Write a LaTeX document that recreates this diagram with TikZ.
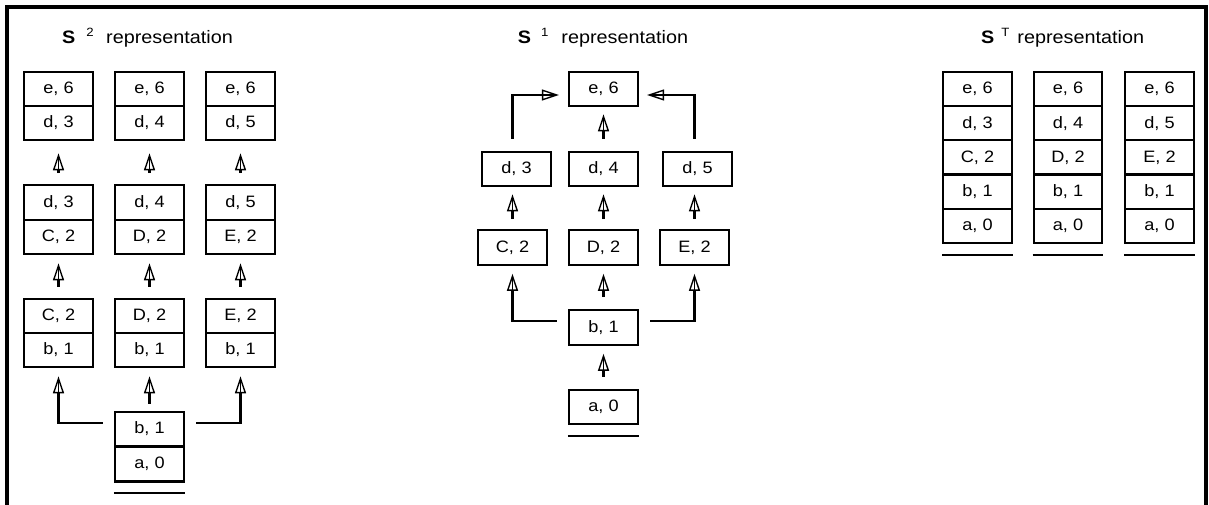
\documentclass[tikz,border=0pt]{standalone}
\usepackage{fontspec}
\setmainfont{Liberation Sans}[FakeStretch=1.1]
\usetikzlibrary{arrows.meta}
\begin{document}
\begin{tikzpicture}[x=1pt,y=-1pt,
  cell/.style={draw, line width=2.2pt, minimum width=69pt, minimum height=34.4pt, inner sep=0pt, font=\fontsize{16.5}{18}\selectfont},
  ttl/.style={anchor=base west, inner sep=0pt, font=\fontsize{18}{20}\selectfont},
  arr/.style={line width=2.2pt, -{Triangle[open,length=17pt,width=11pt,line width=1.4pt]}, shorten >=#1, postaction={draw,-,line width=1.6pt,shorten >=#1+4pt}},
  uline/.style={line width=2.2pt},
  frame/.style={line width=3.4pt}]
\useasboundingbox (0,0) rectangle (1209,505);
\draw[frame] (7,506) -- (7,7) -- (1206,7) -- (1206,506);

% ---------- S^2 ----------
\node[ttl] (T2) at (62,44) {\textbf{S}\hspace{11pt}\raisebox{7.5pt}{\fontsize{12}{12}\selectfont 2}\hspace{12.5pt}representation};
\foreach \c/\x/\u/\v in {1/58.5/3/C, 2/149.5/4/D, 3/240.5/5/E}{
  \node[cell] (L\c a) at (\x,89) {e, 6};
  \node[cell] (L\c b) at (\x,123) {d, \u};
  \node[cell] (L\c c) at (\x,202.5) {d, \u};
  \node[cell] (L\c d) at (\x,237) {\v, 2};
  \node[cell] (L\c e) at (\x,316) {\v, 2};
  \node[cell] (L\c f) at (\x,350) {b, 1};
  \draw[arr=12pt, shorten <=11pt] (L\c c.north) -- (L\c b.south);
  \draw[arr=8pt, shorten <=11pt] (L\c e.north) -- (L\c d.south);
}
\node[cell] (LBa) at (149.5,429) {b, 1};
\node[cell, minimum height=35pt] (LBb) at (149.5,464) {a, 0};
\draw[arr=8pt, shorten <=7pt] (LBa.north) -- (L2f.south);
\draw[arr=8pt] ([xshift=-11pt,yshift=-12pt]LBa.north west) -| (L1f.south);
\draw[arr=8pt] ([xshift=11pt,yshift=-12pt]LBa.north east) -| (L3f.south);
\draw[uline] ([yshift=-10pt]LBb.south west) -- ([yshift=-10pt]LBb.south east);

% ---------- S^1 ----------
\node[ttl] (T1) at (517.7,44) {\textbf{S}\hspace{10pt}\raisebox{7.5pt}{\fontsize{12}{12}\selectfont 1}\hspace{13pt}representation};
\node[cell] (Me) at (603.5,89) {e, 6};
\node[cell] (Md3) at (516.5,169) {d, 3};
\node[cell] (Md4) at (603.5,169) {d, 4};
\node[cell] (Md5) at (697.5,169) {d, 5};
\node[cell] (MC) at (512.5,247.5) {C, 2};
\node[cell] (MD) at (603.5,247.5) {D, 2};
\node[cell] (ME) at (694.5,247.5) {E, 2};
\node[cell] (Mb) at (603.5,327.5) {b, 1};
\node[cell] (Ma) at (603.5,407) {a, 0};
\coordinate (Mc3) at (MC.north |- Md3.north);
\coordinate (Mc5) at (ME.north |- Md5.north);
\draw[arr=9pt, shorten <=12pt] (Mc3) |- ([yshift=-6pt]Me.west);
\draw[arr=8pt, shorten <=12pt] (Mc5) |- ([yshift=-6pt]Me.east);
\draw[arr=7pt, shorten <=12pt] (Md4.north) -- (Me.south);
\draw[arr=7pt, shorten <=10pt] (MC.north) -- (MC.north |- Md3.south);
\draw[arr=7pt, shorten <=10pt] (MD.north) -- (Md4.south);
\draw[arr=7pt, shorten <=10pt] (ME.north) -- (ME.north |- Md5.south);
\draw[arr=8pt, shorten <=12pt] (Mb.north) -- (MD.south);
\draw[arr=8pt] ([xshift=-11pt,yshift=-12pt]Mb.north west) -| (MC.south);
\draw[arr=8pt] ([xshift=11pt,yshift=-12pt]Mb.north east) -| (ME.south);
\draw[arr=8pt, shorten <=12pt] (Ma.north) -- (Mb.south);
\draw[uline] ([yshift=-11pt]Ma.south west) -- ([yshift=-11pt]Ma.south east);

% ---------- S^T ----------
\node[ttl] (TT) at (981,44) {\textbf{S}\hspace{7pt}\raisebox{7pt}{\fontsize{12}{12}\selectfont T}\hspace{8pt}representation};
\foreach \c/\x/\u/\v in {1/977.5/3/C, 2/1068/4/D, 3/1159.5/5/E}{
  \node[cell, minimum width=68.5pt, minimum height=34.2pt] (R\c a) at (\x,89.1) {e, 6};
  \node[cell, minimum width=68.5pt, minimum height=34.2pt] (R\c b) at (\x,123.3) {d, \u};
  \node[cell, minimum width=68.5pt, minimum height=34.2pt] (R\c c) at (\x,157.5) {\v, 2};
  \node[cell, minimum width=68.5pt, minimum height=34.2pt] (R\c d) at (\x,191.7) {b, 1};
  \node[cell, minimum width=68.5pt, minimum height=34.2pt] (R\c e) at (\x,225.9) {a, 0};
  \draw[uline] ([yshift=-11pt]R\c e.south west) -- ([yshift=-11pt]R\c e.south east);
}
\end{tikzpicture}
\end{document}
